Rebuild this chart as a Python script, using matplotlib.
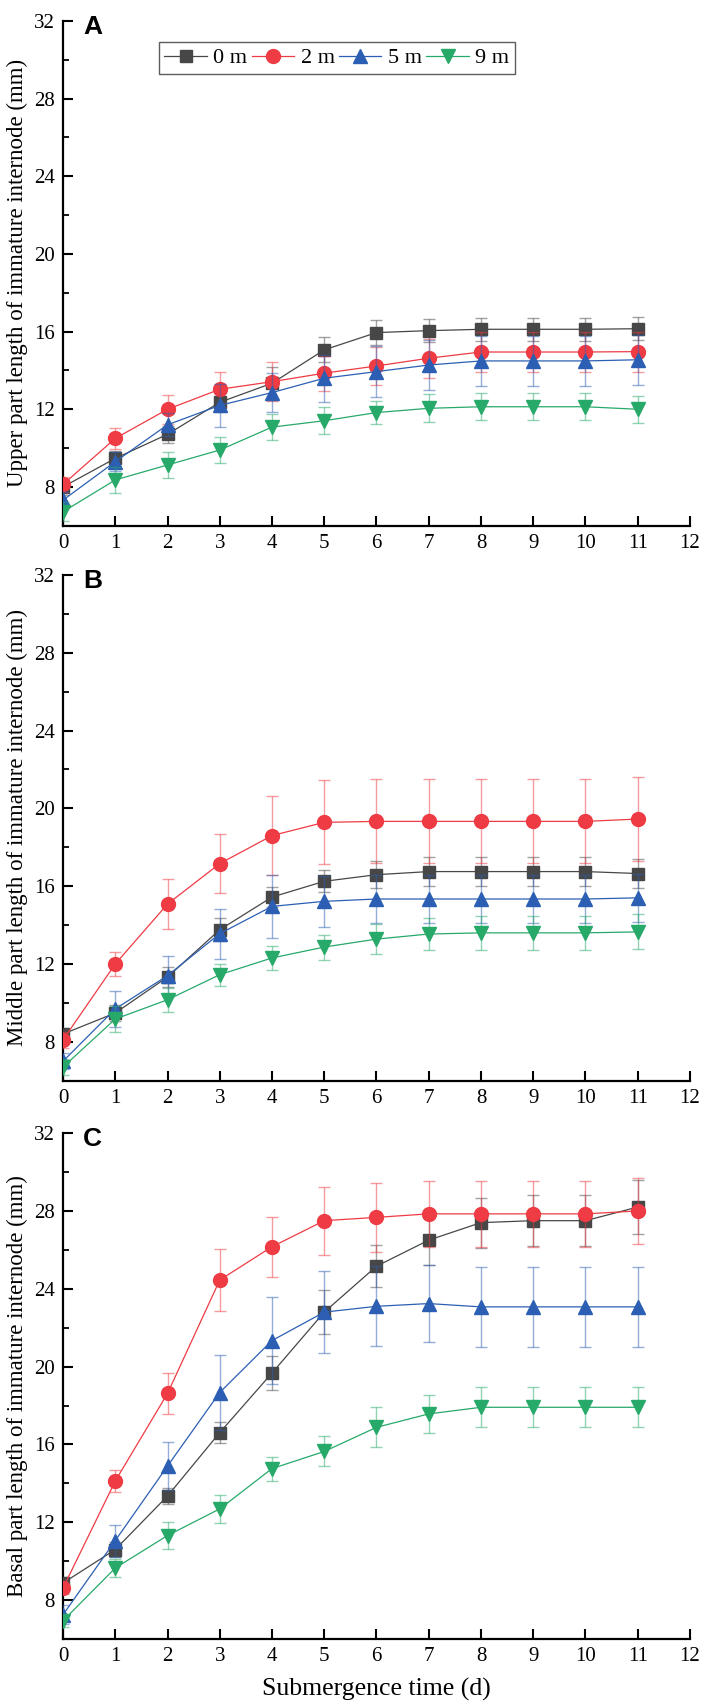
import matplotlib
matplotlib.use("Agg")
import matplotlib.pyplot as plt
from matplotlib.ticker import MultipleLocator, FixedLocator

plt.rcParams['font.family'] = ['Liberation Serif', 'DejaVu Serif']

days = list(range(12))
series_labels = ["0 m", "2 m", "5 m", "9 m"]

# Panel A: upper part
upper_0 = [8.0, 9.47, 10.71, 12.36, 13.34, 15.06, 15.95, 16.05, 16.12, 16.12, 16.12, 16.15]
upper_2 = [8.13, 10.5, 12.0, 13.03, 13.42, 13.86, 14.23, 14.63, 14.95, 14.95, 14.95, 14.97]
upper_5 = [7.32, 9.3, 11.2, 12.2, 12.86, 13.6, 13.94, 14.28, 14.49, 14.49, 14.49, 14.55]
upper_9 = [6.72, 8.36, 9.13, 9.9, 11.08, 11.41, 11.83, 12.05, 12.13, 12.13, 12.13, 12.0]
upper_0_err = [0.4, 0.4, 0.45, 0.5, 0.85, 0.65, 0.63, 0.6, 0.58, 0.58, 0.58, 0.6]
upper_2_err = [0.4, 0.54, 0.75, 0.91, 1.0, 0.9, 1.0, 1.0, 1.03, 1.03, 1.03, 1.03]
upper_5_err = [0.4, 0.5, 0.6, 1.12, 1.0, 1.2, 1.3, 1.3, 1.3, 1.3, 1.3, 1.3]
upper_9_err = [0.5, 0.65, 0.68, 0.69, 0.67, 0.7, 0.61, 0.73, 0.7, 0.7, 0.7, 0.7]

# Panel B: middle part
middle_0 = [8.4, 9.48, 11.33, 13.76, 15.44, 16.25, 16.59, 16.75, 16.75, 16.75, 16.75, 16.65]
middle_2 = [8.1, 12.0, 15.08, 17.16, 18.6, 19.28, 19.33, 19.33, 19.33, 19.33, 19.33, 19.45]
middle_5 = [7.0, 9.69, 11.4, 13.56, 14.96, 15.22, 15.34, 15.34, 15.34, 15.34, 15.34, 15.4]
middle_9 = [6.7, 9.17, 10.16, 11.45, 12.31, 12.87, 13.28, 13.54, 13.6, 13.6, 13.6, 13.65]
middle_0_err = [0.3, 0.4, 0.5, 0.6, 0.5, 0.57, 0.7, 0.75, 0.75, 0.75, 0.75, 0.75]
middle_2_err = [0.4, 0.62, 1.29, 1.53, 2.03, 2.16, 2.16, 2.16, 2.16, 2.16, 2.16, 2.15]
middle_5_err = [0.4, 0.94, 1.03, 1.29, 1.6, 1.3, 1.25, 1.25, 1.25, 1.25, 1.25, 1.25]
middle_9_err = [0.4, 0.67, 0.62, 0.57, 0.6, 0.64, 0.75, 0.84, 0.88, 0.88, 0.88, 0.9]

# Panel C: basal part
basal_0 = [8.88, 10.6, 13.35, 16.61, 19.67, 22.8, 25.16, 26.5, 27.4, 27.5, 27.5, 28.2]
basal_2 = [8.62, 14.12, 18.62, 24.45, 26.16, 27.5, 27.67, 27.85, 27.85, 27.85, 27.85, 28.0]
basal_5 = [7.25, 11.06, 14.89, 18.67, 21.34, 22.8, 23.1, 23.24, 23.07, 23.07, 23.07, 23.07]
basal_9 = [6.94, 9.65, 11.32, 12.69, 14.76, 15.64, 16.88, 17.57, 17.91, 17.91, 17.91, 17.91]
basal_0_err = [0.3, 0.4, 0.4, 0.52, 0.88, 1.12, 1.07, 1.3, 1.29, 1.3, 1.3, 1.4]
basal_2_err = [0.3, 0.56, 1.03, 1.6, 1.55, 1.75, 1.76, 1.68, 1.68, 1.68, 1.68, 1.7]
basal_5_err = [0.5, 0.82, 1.24, 1.94, 2.24, 2.1, 2.06, 2.0, 2.04, 2.04, 2.04, 2.04]
basal_9_err = [0.3, 0.47, 0.7, 0.72, 0.62, 0.77, 1.03, 0.96, 1.03, 1.03, 1.03, 1.03]

panels = [
    ("A", "Upper part length of immature internode (mm)",
     [upper_0, upper_2, upper_5, upper_9], [upper_0_err, upper_2_err, upper_5_err, upper_9_err]),
    ("B", "Middle part length of immature internode (mm)",
     [middle_0, middle_2, middle_5, middle_9], [middle_0_err, middle_2_err, middle_5_err, middle_9_err]),
    ("C", "Basal part length of immature internode (mm)",
     [basal_0, basal_2, basal_5, basal_9], [basal_0_err, basal_2_err, basal_5_err, basal_9_err]),
]

colors = ["#474747", "#ee3b44", "#2c5fb3", "#27a96a"]
markers = ["s", "o", "^", "v"]
msizes = [8.5, 10, 10, 10]

fig = plt.figure(figsize=(7.04, 17.07), dpi=100)
rects = [
    (0.0895, 0.6920, 0.8906, 0.2957),
    (0.0895, 0.3669, 0.8906, 0.2963),
    (0.0895, 0.0398, 0.8906, 0.2964),
]

for i, (letter, ylabel, vals, errs) in enumerate(panels):
    ax = fig.add_axes(rects[i])
    handles = []
    for k in range(4):
        ax.errorbar(days, vals[k], yerr=errs[k], fmt='none', ecolor=colors[k],
                    elinewidth=1.0, capsize=4, capthick=1.0, alpha=0.5, zorder=2 + k)
        h, = ax.plot(days, vals[k], color=colors[k], lw=0.9, marker=markers[k],
                     ms=msizes[k], mec=colors[k], mfc=colors[k], zorder=3 + k,
                     label=series_labels[k])
        handles.append(h)
    ax.set_xlim(0, 12)
    ax.set_ylim(6, 32)
    ax.xaxis.set_major_locator(MultipleLocator(1))
    ax.yaxis.set_major_locator(FixedLocator([8, 12, 16, 20, 24, 28, 32]))
    ax.yaxis.set_minor_locator(FixedLocator([6, 10, 14, 18, 22, 26, 30]))
    for s in ["top", "right"]:
        ax.spines[s].set_visible(False)
    for s in ["left", "bottom"]:
        ax.spines[s].set_linewidth(1.6)
    ax.tick_params(axis='both', which='major', direction='in', length=7, width=1.5,
                   labelsize=15, pad=6)
    ax.tick_params(axis='y', which='minor', direction='in', length=4, width=1.3)
    ax.set_ylabel(ylabel, fontsize=16.5, labelpad=4)
    ax.text(0.57, 31.7, letter, fontsize=19, fontweight='bold',
            family=['Liberation Sans', 'DejaVu Sans'], ha='center', va='center')
    if i == 0:
        leg = ax.legend(handles=handles, loc='upper left', bbox_to_anchor=(0.153, 0.958),
                        ncol=4, frameon=True, fancybox=False, edgecolor='#333333',
                        fontsize=16, handlelength=1.9, handletextpad=0.3,
                        columnspacing=0.2, borderpad=0.25, borderaxespad=0)
        leg.get_frame().set_linewidth(1.0)
    if i == 2:
        ax.set_xlabel("Submergence time (d)", fontsize=18.5, labelpad=8)

fig.savefig("out.png", dpi=100)
